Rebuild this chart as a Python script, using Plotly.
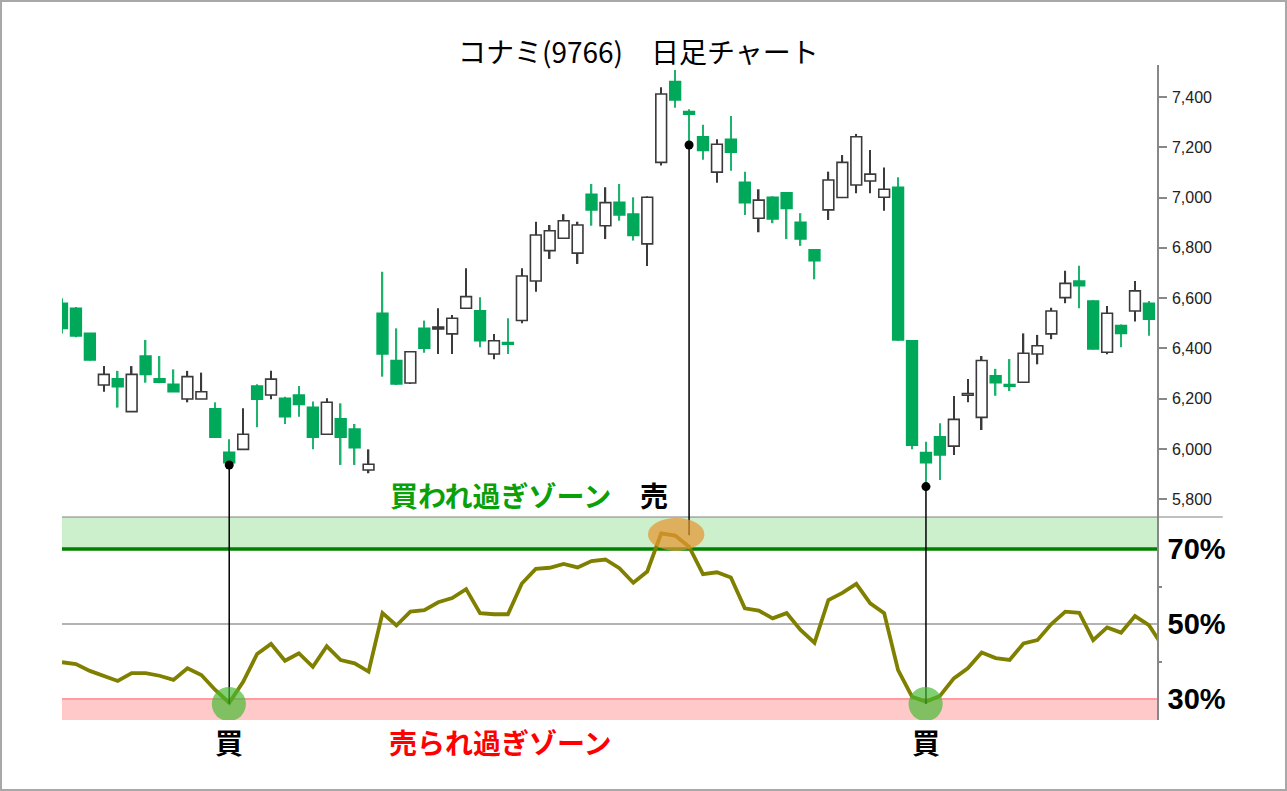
import plotly.graph_objects as go

# ---------------- data ----------------
opens = [6580, 6560, 6460, 6255, 6279, 6149, 6370, 6279, 6258, 6199,
         6199, 6160, 5987, 5999, 6251, 6215, 6202, 6215, 6166, 6059,
         6120, 6080, 5917, 6540, 6352, 6263, 6480, 6478, 6458, 6560,
         6550, 6378, 6419, 6511, 6668, 6789, 6838, 6779, 7013, 6888,
         6981, 6934, 6816, 7140, 7461, 7342, 7242, 7101, 7232, 7061,
         6918, 7001, 7019, 6902, 6792, 6951, 7000, 7050, 7066, 7001,
         7041, 6431, 5986, 6049, 6012, 6214, 6126, 6291, 6252, 6266,
         6378, 6458, 6602, 6668, 6589, 6385, 6491, 6549, 6580]
highs = [6600, 6565, 6462, 6330, 6311, 6330, 6434, 6370, 6317, 6311,
         6304, 6186, 6039, 6162, 6258, 6311, 6208, 6251, 6189, 6202,
         6182, 6100, 5999, 6705, 6480, 6390, 6511, 6560, 6533, 6719,
         6604, 6458, 6520, 6719, 6904, 6891, 6934, 6904, 7054, 7041,
         7054, 7001, 7005, 7439, 7507, 7351, 7289, 7232, 7324, 7103,
         7033, 7005, 7022, 6938, 6795, 7103, 7169, 7253, 7189, 7120,
         7081, 6434, 6029, 6103, 6211, 6279, 6370, 6319, 6358, 6460,
         6454, 6562, 6709, 6729, 6592, 6569, 6495, 6668, 6589]
lows = [6460, 6445, 6352, 6228, 6165, 6149, 6264, 6262, 6228, 6186,
        6199, 6047, 5937, 5999, 6087, 6198, 6100, 6129, 5999, 6059,
        5937, 5937, 5904, 6288, 6255, 6259, 6383, 6378, 6378, 6560,
        6405, 6357, 6378, 6500, 6626, 6756, 6838, 6736, 6888, 6835,
        6908, 6829, 6728, 7127, 7357, 7209, 7150, 7059, 7107, 6931,
        6862, 6898, 6835, 6808, 6675, 6911, 6998, 7017, 7017, 6948,
        6430, 5999, 5851, 5877, 5977, 6186, 6076, 6212, 6231, 6264,
        6337, 6437, 6580, 6560, 6396, 6377, 6405, 6507, 6451]
closes = [6480, 6450, 6354, 6297, 6248, 6297, 6297, 6266, 6228, 6288,
          6228, 6047, 5946, 6059, 6198, 6278, 6129, 6178, 6047, 6186,
          6047, 6006, 5940, 6378, 6259, 6387, 6401, 6481, 6520, 6606,
          6431, 6431, 6417, 6688, 6851, 6868, 6908, 6891, 6951, 6980,
          6931, 6849, 7001, 7412, 7388, 7331, 7187, 7212, 7180, 6980,
          6990, 6915, 6957, 6835, 6749, 7070, 7140, 7242, 7093, 7033,
          6434, 6016, 5946, 5977, 6118, 6216, 6352, 6264, 6250, 6381,
          6411, 6549, 6659, 6650, 6398, 6540, 6460, 6629, 6516]

rsi = [39.8, 39.3, 37.5, 36.2, 34.8, 36.9, 36.9, 36.2, 35.1, 38.2,
       36.4, 32.4, 29.0, 34.6, 42.0, 44.7, 40.2, 42.2, 38.6, 44.1,
       40.4, 39.5, 37.3, 52.9, 49.6, 53.3, 53.7, 55.8, 56.9, 59.3,
       52.9, 52.6, 52.6, 60.8, 64.7, 65.0, 66.0, 65.1, 66.8, 67.2,
       64.9, 61.0, 64.0, 74.2, 73.6, 70.6, 63.3, 63.8, 62.4, 54.2,
       53.6, 51.5, 52.9, 48.4, 45.0, 56.4, 58.3, 60.7, 55.5, 52.9,
       37.7, 30.6, 29.3, 30.8, 35.5, 38.2, 42.4, 40.9, 40.4, 44.8,
       45.7, 50.0, 53.3, 53.0, 45.7, 49.1, 47.7, 52.1, 49.7, 44.0]

price_ticks = [5800, 6000, 6200, 6400, 6600, 6800, 7000, 7200, 7400]
price_tick_labels = ["5,800", "6,000", "6,200", "6,400", "6,600",
                     "6,800", "7,000", "7,200", "7,400"]
rsi_ticks = [30, 50, 70]
rsi_tick_labels = ["30%", "50%", "70%"]
rsi_minor_ticks = [40, 60]

buy_idx = [12, 62]
sell_idx = [45]
buy_rsi_mark = [28.7, 28.7]
sell_rsi_mark = [73.7]

title_text = "コナミ(9766)　日足チャート"
overbought_text = "買われ過ぎゾーン"
oversold_text = "売られ過ぎゾーン"
buy_text = "買"
sell_text = "売"

# ---------------- styles ----------------
PRICE_RANGE = [5730, 7527]
RSI_RANGE = [24.4, 78.53]
X_RANGE = [0, 78.58]
SPLIT = 0.3099
GREEN_BODY = "#00a85a"
GREEN_WICK = "#1cb46c"
DARK = "#3a3a3a"
JP = "Noto Sans CJK JP"

n = len(opens)
idx = list(range(n))
is_up = [c >= o for o, c in zip(opens, closes)]

fig = go.Figure()

# wicks
fig.add_trace(go.Bar(
    x=idx, base=lows, y=[h - l for h, l in zip(highs, lows)],
    width=0.11, marker=dict(color=[DARK if u else GREEN_WICK for u in is_up],
                            line=dict(width=0)),
    hoverinfo="skip", yaxis="y"))

# bodies
body_base = [min(o, c) for o, c in zip(opens, closes)]
body_h = [max(abs(c - o), 7) for o, c in zip(opens, closes)]
fig.add_trace(go.Bar(
    x=idx, base=body_base, y=body_h, width=0.77,
    marker=dict(color=["#ffffff" if u else GREEN_BODY for u in is_up],
                line=dict(color=[DARK if u else GREEN_BODY for u in is_up], width=1.6)),
    hoverinfo="skip", yaxis="y"))

# RSI line
fig.add_trace(go.Scatter(
    x=list(range(len(rsi))), y=rsi, mode="lines",
    line=dict(color="#808000", width=3.8), hoverinfo="skip", yaxis="y2"))

# signal dots on candles
sig_idx = buy_idx + sell_idx
fig.add_trace(go.Scatter(
    x=sig_idx, y=[lows[i] for i in sig_idx], mode="markers",
    marker=dict(color="black", size=9), hoverinfo="skip", yaxis="y"))

shapes = []
# zone bands
shapes.append(dict(type="rect", xref="paper", yref="y2", x0=0, x1=1, y0=70, y1=RSI_RANGE[1],
                   fillcolor="#ccefcc", line=dict(width=0), layer="below"))
shapes.append(dict(type="rect", xref="paper", yref="y2", x0=0, x1=1, y0=RSI_RANGE[0], y1=30,
                   fillcolor="#ffc9c9", line=dict(width=0), layer="below"))
shapes.append(dict(type="line", xref="paper", yref="y2", x0=0, x1=1, y0=30, y1=30,
                   line=dict(color="#ff9aa0", width=2), layer="below"))
shapes.append(dict(type="line", xref="paper", yref="y2", x0=0, x1=1, y0=70, y1=70,
                   line=dict(color="#008000", width=3.5), layer="below"))
shapes.append(dict(type="line", xref="paper", yref="y2", x0=0, x1=1, y0=50, y1=50,
                   line=dict(color="#9a9a9a", width=1.5), layer="below"))
# separator line between panels
shapes.append(dict(type="line", xref="paper", yref="paper", x0=0, x1=1.06, y0=SPLIT, y1=SPLIT,
                   line=dict(color="#808080", width=1)))

# vertical signal lines
for i, m in zip(buy_idx + sell_idx, buy_rsi_mark + sell_rsi_mark):
    shapes.append(dict(type="line", xref="x", yref="y", x0=i, x1=i, y0=lows[i], y1=PRICE_RANGE[0],
                       line=dict(color="black", width=1.5)))
    shapes.append(dict(type="line", xref="x", yref="y2", x0=i, x1=i, y0=RSI_RANGE[1], y1=m,
                       line=dict(color="black", width=1.5)))

# highlight circles
for i in buy_idx:
    shapes.append(dict(type="circle", xref="x", yref="y2", x0=i - 1.25, x1=i + 1.2,
                       y0=24.1, y1=33.2, fillcolor="rgba(70,185,50,0.68)",
                       line=dict(width=0)))
for i in sell_idx:
    shapes.append(dict(type="circle", xref="x", yref="y2", x0=i - 2.95, x1=i + 1.1,
                       y0=69.5, y1=78.3, fillcolor="rgba(228,150,50,0.72)",
                       line=dict(width=0)))

# outer frame
shapes.append(dict(type="rect", xref="paper", yref="paper",
                   x0=-0.0557, x1=1.1178, y0=-0.1069, y1=1.0977,
                   line=dict(color="#a8a8a8", width=2), fillcolor="rgba(0,0,0,0)"))

annotations = [
    dict(text=title_text, xref="paper", yref="paper", x=0.5269, y=1.0214,
         showarrow=False, font=dict(family=JP, size=28, color="black"),
         xanchor="center", yanchor="middle"),
    dict(text=overbought_text, xref="paper", yref="paper", x=0.4, y=0.3435,
         showarrow=False, font=dict(family=JP, size=28, color="#0aa00a", weight="bold"),
         xanchor="center", yanchor="middle"),
    dict(text=sell_text, xref="x", yref="paper", x=42.5, y=0.3435,
         showarrow=False, font=dict(family=JP, size=28, color="black", weight="bold"),
         xanchor="center", yanchor="middle"),
    dict(text=oversold_text, xref="paper", yref="paper", x=0.4009, y=-0.0336,
         showarrow=False, font=dict(family=JP, size=28, color="#ff0000", weight="bold"),
         xanchor="center", yanchor="middle"),
]
for i in buy_idx:
    annotations.append(dict(text=buy_text, xref="x", yref="paper", x=i, y=-0.0336,
                            showarrow=False,
                            font=dict(family=JP, size=28, color="black", weight="bold"),
                            xanchor="center", yanchor="middle"))

fig.update_layout(
    width=1287, height=791,
    margin=dict(l=62, r=130, t=65, b=71),
    paper_bgcolor="white", plot_bgcolor="white",
    showlegend=False, barmode="overlay",
    xaxis=dict(range=X_RANGE, visible=False, fixedrange=True),
    yaxis=dict(domain=[SPLIT, 1], range=PRICE_RANGE, side="right",
               showline=True, linecolor="#888888", linewidth=1.5,
               ticks="outside", ticklen=8, tickcolor="#888888", tickwidth=1.5,
               tickvals=price_ticks, ticktext=price_tick_labels,
               tickfont=dict(family="Liberation Sans, Arial", size=16, color="#222222"),
               ticklabelstandoff=2,
               showgrid=False, zeroline=False),
    yaxis2=dict(domain=[0, SPLIT], range=RSI_RANGE, side="right", anchor="x",
                showline=True, linecolor="#888888", linewidth=1.5,
                ticks="", tickvals=rsi_ticks, ticktext=rsi_tick_labels,
                tickfont=dict(family="Liberation Sans, Arial", size=29, color="black",
                              weight="bold"),
                ticklabelstandoff=3,
                minor=dict(tickvals=rsi_minor_ticks, ticks="outside", ticklen=3,
                           tickcolor="#888888", tickwidth=1.5),
                showgrid=False, zeroline=False),
    shapes=shapes, annotations=annotations,
)

fig.write_html("out.html", config={"displayModeBar": False},
               post_script="document.body.style.margin='0';document.body.style.overflow='hidden';")
